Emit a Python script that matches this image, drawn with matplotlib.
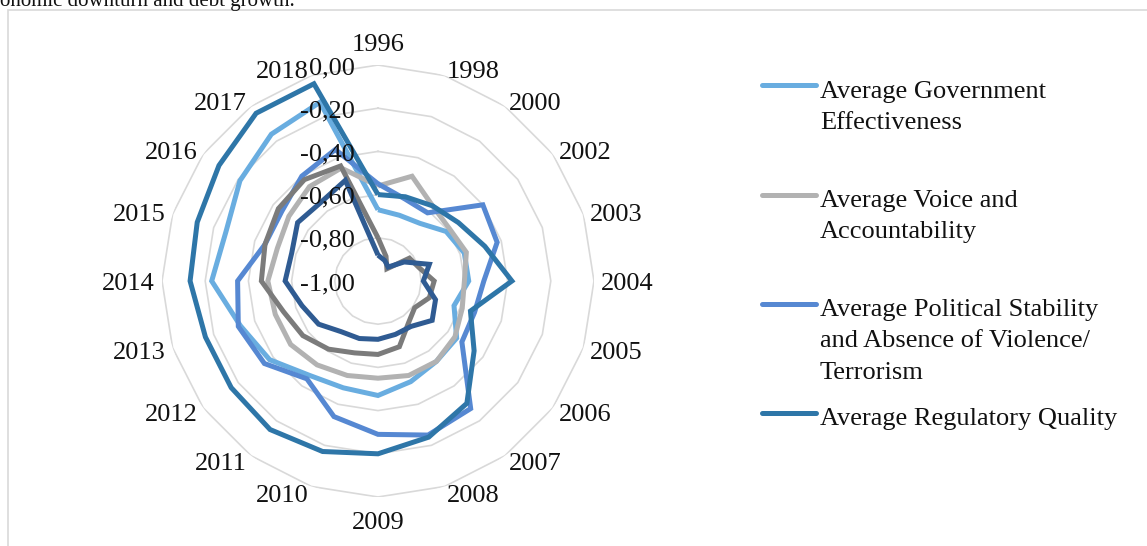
import numpy as np
import matplotlib
matplotlib.use("Agg")
import matplotlib.pyplot as plt
from matplotlib.lines import Line2D
from matplotlib.patches import Rectangle

plt.rcParams['font.family'] = ['Liberation Serif', 'DejaVu Serif']

years = ['1996', '1998', '2000', '2002', '2003', '2004', '2005', '2006', '2007', '2008',
         '2009', '2010', '2011', '2012', '2013', '2014', '2015', '2016', '2017', '2018']

gov_effectiveness = [-0.67, -0.68, -0.67, -0.61, -0.58, -0.58, -0.63, -0.55, -0.54, -0.51,
                     -0.47, -0.48, -0.46, -0.38, -0.33, -0.23, -0.26, -0.21, -0.16, -0.13]
voice_accountability = [-0.56, -0.49, -0.57, -0.59, -0.57, -0.60, -0.59, -0.56, -0.54, -0.54,
                        -0.55, -0.54, -0.52, -0.50, -0.50, -0.49, -0.51, -0.49, -0.46, -0.45]
political_stability = [-0.55, -0.60, -0.61, -0.40, -0.42, -0.51, -0.53, -0.52, -0.27, -0.25,
                       -0.29, -0.34, -0.44, -0.35, -0.32, -0.35, -0.45, -0.45, -0.40, -0.36]
regulatory_quality = [-0.60, -0.59, -0.57, -0.54, -0.48, -0.38, -0.55, -0.45, -0.30, -0.24,
                      -0.20, -0.17, -0.15, -0.16, -0.16, -0.13, -0.12, -0.09, -0.04, -0.04]
rule_of_law = [-0.80, -0.88, -0.93, -0.82, -0.80, -0.74, -0.75, -0.79, -0.76, -0.68,
               -0.66, -0.65, -0.61, -0.57, -0.54, -0.46, -0.45, -0.43, -0.42, -0.44]
control_corruption = [-0.88, -0.90, -0.92, -0.85, -0.75, -0.79, -0.72, -0.69, -0.74, -0.74,
                      -0.73, -0.72, -0.71, -0.66, -0.63, -0.57, -0.58, -0.54, -0.55, -0.51]

legend_labels = ['Average Government\nEffectiveness',
                 'Average Voice and\nAccountability',
                 'Average Political Stability\nand Absence of Violence/\nTerrorism',
                 'Average Regulatory Quality']

radial_levels = [-1.0, -0.8, -0.6, -0.4, -0.2, 0.0]

series = [gov_effectiveness, voice_accountability, political_stability,
          regulatory_quality, rule_of_law, control_corruption]
colors = ['#69ADE0', '#B2B2B2', '#5688D2', '#2E76A8', '#7B7B7B', '#2F5B92']
grid_color = '#D9D9D9'
text_color = '#111111'
FS = 19

W, H = 1147, 546
fig = plt.figure(figsize=(W / 100, H / 100), dpi=100)

# outer frame of the chart area
fig.add_artist(Rectangle((8 / W, -0.05), 1.2, 1 - 10 / H + 0.05, transform=fig.transFigure,
                         fill=False, edgecolor=grid_color, linewidth=1.2))
fig.text(0.0, 1 - 6 / H, 'onomic downturn and debt growth.', fontsize=15,
         va='baseline', ha='left', color=text_color)

cx, cy, R = 378, 546 - 281, 216
ax = fig.add_axes([(cx - R) / W, (cy - R) / H, 2 * R / W, 2 * R / H], projection='polar')
ax.set_theta_zero_location('N')
ax.set_theta_direction(-1)
ax.set_ylim(-1.0, 0.0)
ax.grid(False)
ax.spines['polar'].set_visible(False)
ax.set_xticks([])
ax.set_yticks([])
ax.patch.set_alpha(0)

n = len(years)
angles = np.linspace(0, 2 * np.pi, n, endpoint=False)
closed = np.append(angles, angles[0])

# polygonal grid rings
for lvl in radial_levels[1:]:
    ax.plot(closed, [lvl] * (n + 1), color=grid_color, lw=1.2, zorder=1)

# data polygons
for vals, col in zip(series, colors):
    ax.plot(closed, list(vals) + [vals[0]], color=col, lw=3.6, zorder=3,
            solid_joinstyle='miter', solid_capstyle='butt')

# radial value labels
for lvl in radial_levels:
    lab = f'{lvl:.2f}'.replace('.', ',')
    if lab == '-0,00':
        lab = '0,00'
    ax.annotate(lab, xy=(0, lvl), xytext=(-23, -3), textcoords='offset pixels',
                ha='right', va='center', fontsize=FS, color=text_color, zorder=4,
                annotation_clip=False)

# category labels around the ring
for ang, yr in zip(angles, years):
    sx, sy = np.sin(ang), np.cos(ang)
    if abs(sx) < 0.05:
        g = 12
        ha = 'center'
        va = 'bottom' if sy > 0 else 'top'
    else:
        g = 7
        ha = 'left' if sx > 0 else 'right'
        va = 'center'
    ax.annotate(yr, xy=(ang, 0.0), xytext=(g * sx, g * sy - 3), textcoords='offset pixels',
                ha=ha, va=va, fontsize=FS, color=text_color, annotation_clip=False)

# legend
leg_rows = [90, 199, 308, 417]
leg_line_y = [85, 195, 304, 413]
for lab, col, ty, ly in zip(legend_labels, colors[:4], leg_rows, leg_line_y):
    fig.add_artist(Line2D([762 / W, 816 / W], [1 - ly / H, 1 - ly / H], color=col,
                          lw=3.6, solid_capstyle='round', transform=fig.transFigure))
    fig.text(820 / W, 1 - (ty - 9) / H, lab, ha='left', va='top', fontsize=FS,
             color=text_color, linespacing=1.55)

fig.savefig('out.png', dpi=100)
